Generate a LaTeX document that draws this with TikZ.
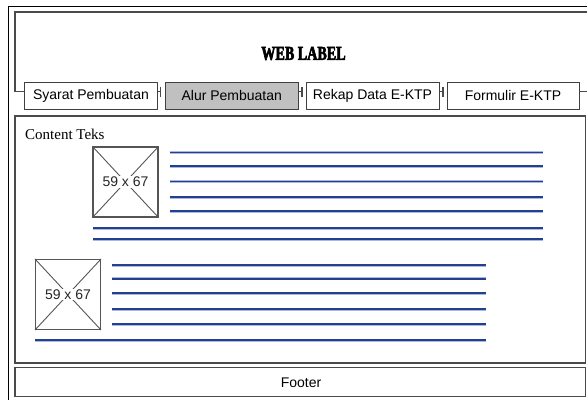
\documentclass[tikz,border=0pt]{standalone}
\usepackage{fontspec}
\setmainfont{Liberation Sans}
\newfontfamily\serifont{Liberation Serif}
\newfontfamily\webfont{Liberation Serif}[BoldFeatures={FakeBold=3,FakeStretch=0.72}]
\definecolor{boxgray}{HTML}{4A4A4A}
\definecolor{tabgray}{HTML}{404040}
\definecolor{tabfill}{HTML}{C0C0C0}
\definecolor{navy}{HTML}{23408E}
\definecolor{navylight}{HTML}{AAB8E0}
\definecolor{imggray}{HTML}{555555}
\begin{document}
\begin{tikzpicture}[x=1bp,y=-1bp,
  frame/.style={draw=boxgray, line width=1.6bp},
  hdrline/.style={draw=boxgray, line width=1.2bp},
  tabbox/.style={draw=tabgray, line width=1bp, fill=white, minimum height=27bp, inner sep=0pt, font=\fontsize{14bp}{16bp}\selectfont},
  imgbox/.style={draw=imggray, line width=1.2bp, fill=white, minimum width=65bp, minimum height=70bp, inner sep=0pt},
  imgdiag/.style={draw=imggray, line width=0.9bp},
  imgtext/.style={fill=white, inner sep=1bp, font=\fontsize{14bp}{16bp}\selectfont, text=black!85},
  bline/.style={draw=navy, line width=1.8bp, preaction={draw=navylight, line width=3bp}},
  sanstext/.style={font=\fontsize{14bp}{16bp}\selectfont, inner sep=0pt}
]
\useasboundingbox (0,0) rectangle (587,399);
% outer black frame
\draw[line width=1.5bp, black] (8.5,402) -- (8.5,6.5) -- (592,6.5);
% header box
\draw[hdrline] (25,91.5) -- (15,91.5) -- (15,12) -- (592,12);
\node[font=\webfont\bfseries\fontsize{19.6bp}{22bp}\selectfont, inner sep=0pt] (title) at (303.5,53.5) {WEB LABEL};
% tabs
\node[tabbox, minimum width=132bp] (tab1) at (91,95.5) {Syarat Pembuatan};
\node[tabbox, minimum width=132.5bp, fill=tabfill] (tab2) at (231.75,95.5) {Alur Pembuatan};
\node[tabbox, minimum width=133bp] (tab3) at (372.5,95.5) {Rekap Data E-KTP};
\node[tabbox, minimum width=132bp] (tab4) at (513,95.5) {Formulir E-KTP};
% header bottom fragments and ticks between tabs
\coordinate (t1) at (160.5,91.5);
\coordinate (t2) at (302,91.5);
\coordinate (t3) at (443,91.5);
\coordinate (tend) at (592,91.5);
\draw[hdrline] (tab1.east |- t1) -- (t1) ++(0,-5) -- ++(0,10);
\draw[hdrline] (tab2.east |- t2) -- (t2) ++(0,-5) -- ++(0,10);
\draw[hdrline] (tab3.east |- t3) -- (t3) ++(0,-5) -- ++(0,10);
\draw[hdrline] (tab4.east |- tend) -- (tend);
% content box
\draw[frame] (15,116) rectangle (585.5,363);
\node[anchor=west, inner sep=0pt, font=\serifont\fontsize{15bp}{17bp}\selectfont] (content) at (25,134.5) {Content Teks};
% image 1
\node[imgbox] (img1) at (125.5,182) {};
\draw[imgdiag] (img1.north west) -- (img1.south east);
\draw[imgdiag] (img1.north east) -- (img1.south west);
\node[imgtext] (img1t) at (img1.center) {59 x 67};
% lines group 1
\foreach \yy in {152.5,166,181.5,197,211.3}{\draw[bline] (170,\yy) -- (543,\yy);}
\foreach \yy in {228,239}{\draw[bline] (93,\yy) -- (543,\yy);}
% image 2
\node[imgbox] (img2) at (68,294.5) {};
\draw[imgdiag] (img2.north west) -- (img2.south east);
\draw[imgdiag] (img2.north east) -- (img2.south west);
\node[imgtext] (img2t) at (img2.center) {59 x 67};
% lines group 2
\foreach \yy in {265,278.7,293.3,309,324}{\draw[bline] (112,\yy) -- (486,\yy);}
\draw[bline] (35,340) -- (486,340);
% footer
\draw[frame] (15,367.5) rectangle (585.5,396.5);
\node[sanstext] (footer) at (301,382.5) {Footer};
\end{tikzpicture}
\end{document}
